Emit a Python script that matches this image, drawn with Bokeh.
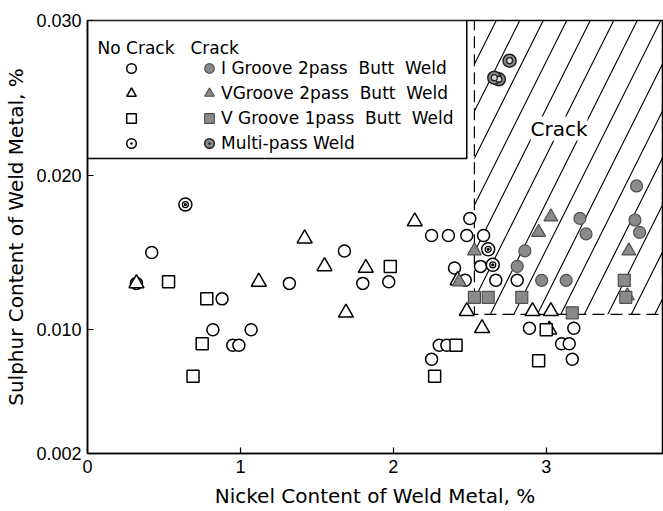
from bokeh.plotting import figure
from bokeh.models import (Range1d, FixedTicker, NumeralTickFormatter, BoxAnnotation,
                          Label, Legend, LegendItem)
from bokeh.embed import file_html
from bokeh.resources import INLINE

# ---- data (Ni %, S %) ----
nc_circle_x = [0.32, 0.42, 0.88, 0.82, 1.07, 0.95, 0.99, 1.32, 1.68, 1.80, 1.97, 2.50, 2.25, 2.36,
               2.48, 2.59, 2.57, 2.40, 2.47, 2.67, 2.81, 2.89, 3.18, 2.30, 2.35, 3.10, 3.15, 2.25, 3.17]
nc_circle_y = [0.0130, 0.0150, 0.0120, 0.0100, 0.0100, 0.0090, 0.0090, 0.0130, 0.0151, 0.0130, 0.0131,
               0.0172, 0.0161, 0.0161, 0.0161, 0.0161, 0.0141, 0.0140, 0.0132, 0.0132, 0.0132, 0.0101,
               0.0101, 0.0090, 0.0090, 0.0091, 0.0091, 0.0081, 0.0081]

nc_tri_x = [0.32, 1.12, 1.42, 1.55, 1.82, 1.69, 2.14, 2.42, 2.48, 2.91, 3.03, 2.58, 3.02]
nc_tri_y = [0.0130, 0.0131, 0.0159, 0.0141, 0.0140, 0.0111, 0.0170, 0.0132, 0.0112, 0.0112, 0.0112,
            0.0101, 0.0100]

nc_sq_x = [0.53, 0.78, 0.75, 0.69, 1.98, 2.41, 3.00, 2.95, 2.27]
nc_sq_y = [0.0131, 0.0120, 0.0091, 0.0070, 0.0141, 0.0090, 0.0100, 0.0080, 0.0070]

nc_multi_x = [0.64, 2.62, 2.65]
nc_multi_y = [0.0181, 0.0152, 0.0142]

cr_circle_x = [2.86, 2.81, 2.97, 3.13, 3.22, 3.26, 3.59, 3.58, 3.61]
cr_circle_y = [0.0151, 0.0141, 0.0132, 0.0132, 0.0172, 0.0162, 0.0193, 0.0171, 0.0163]

cr_tri_x = [2.53, 2.95, 3.03, 3.54, 3.53, 2.43]
cr_tri_y = [0.0151, 0.0163, 0.0173, 0.0151, 0.0122, 0.0131]

cr_sq_x = [2.53, 2.62, 2.84, 3.17, 3.51, 3.52]
cr_sq_y = [0.0121, 0.0121, 0.0121, 0.0111, 0.0132, 0.0121]

cr_multi_x = [2.69, 2.66, 2.76]
cr_multi_y = [0.0262, 0.0263, 0.0274]

x_ticks = [0, 1, 2, 3]
y_ticks = [0.002, 0.010, 0.020, 0.030]

crack_ni_min = 2.53
crack_s_min = 0.011

legend_labels = ["I Groove 2pass\u00a0\u00a0Butt\u00a0\u00a0Weld",
                 "VGroove 2pass\u00a0\u00a0Butt\u00a0\u00a0Weld",
                 "V Groove 1pass\u00a0\u00a0Butt\u00a0\u00a0Weld",
                 "Multi-pass Weld"]

FONT = "DejaVu Sans"
TICK_FONT = "Liberation Sans"
GRAY = "#8a8a8a"
DARK = "#505050"

p = figure(width=663, height=511, output_backend="svg", toolbar_location=None,
           x_range=Range1d(0, 3.76), y_range=Range1d(0.002, 0.030),
           min_border_left=87, min_border_right=1, min_border_top=20, min_border_bottom=58)
p.grid.visible = False
p.outline_line_color = "black"
p.outline_line_width = 1.5

for ax in (p.xaxis[0], p.yaxis[0]):
    ax.major_tick_in = 6
    ax.major_tick_out = 0
    ax.minor_tick_line_color = None
    ax.axis_line_width = 1.5
    ax.major_tick_line_width = 1.2
    ax.major_label_text_font = TICK_FONT
    ax.major_label_text_font_size = "18px"
    ax.major_label_text_color = "black"
    ax.major_label_standoff = 6
    ax.axis_label_text_font = FONT
    ax.axis_label_text_font_size = "20px"
    ax.axis_label_text_font_style = "normal"
    ax.axis_label_text_color = "black"
p.xaxis.axis_label_standoff = 8
p.yaxis.axis_label_standoff = 5

p.xaxis.ticker = FixedTicker(ticks=x_ticks)
p.yaxis.ticker = FixedTicker(ticks=y_ticks)
p.yaxis.formatter = NumeralTickFormatter(format="0.000")
p.xaxis.axis_label = "Nickel Content of Weld Metal, %"
p.yaxis.axis_label = "Sulphur Content of Weld Metal, %"

# crack region (hatched) and legend frame
crack_box = BoxAnnotation(left=crack_ni_min, bottom=crack_s_min, fill_color="white", fill_alpha=0,
                          line_color="black", line_alpha=1, line_width=1.2, line_dash="12 6",
                          hatch_pattern="/", hatch_scale=47, hatch_weight=1.1,
                          hatch_color="black", hatch_alpha=1, level="underlay")
p.add_layout(crack_box)
legend_box = BoxAnnotation(left=0, right=2.48, bottom=0.02107, fill_color="white", fill_alpha=1,
                           line_color="black", line_alpha=1, line_width=1.5, level="underlay")
p.add_layout(legend_box)

open_kw = dict(fill_color="white", line_color="black", line_width=1.5)
fill_kw = dict(fill_color=GRAY, line_color=DARK, line_width=1.2)

r_nc_c = p.scatter(nc_circle_x, nc_circle_y, marker="circle", size=12, **open_kw)
r_nc_t = p.scatter(nc_tri_x, nc_tri_y, marker="triangle", size=15, **open_kw)
r_nc_s = p.scatter(nc_sq_x, nc_sq_y, marker="square", size=12, **open_kw)
r_nc_m = p.scatter(nc_multi_x, nc_multi_y, marker="circle_dot", size=13, **open_kw)
r_nc_mi = p.scatter(nc_multi_x, nc_multi_y, marker="circle", size=6, fill_color=None,
                    line_color="black", line_width=1.3)

r_cr_c = p.scatter(cr_circle_x, cr_circle_y, marker="circle", size=12, **fill_kw)
r_cr_t = p.scatter(cr_tri_x, cr_tri_y, marker="triangle", size=14, **fill_kw)
r_cr_s = p.scatter(cr_sq_x, cr_sq_y, marker="square", size=12, **fill_kw)
r_cr_m = p.scatter(cr_multi_x, cr_multi_y, marker="circle_dot", size=13,
                   fill_color=GRAY, line_color="#222222", line_width=1.5)
r_cr_mi = p.scatter(cr_multi_x, cr_multi_y, marker="circle", size=6, fill_color="#dddddd",
                    line_color="#222222", line_width=1.3)

leg_common = dict(glyph_width=24, glyph_height=24, spacing=1, padding=0,
                  border_line_color=None, background_fill_alpha=0,
                  label_standoff=0, label_text_font=FONT, label_text_font_size="17px",
                  label_text_color="black")
leg1 = Legend(items=[LegendItem(label=" ", renderers=[r]) for r in (r_nc_c, r_nc_t, r_nc_s, r_nc_m)],
              location=(32, 298), **leg_common)
leg2 = Legend(items=[LegendItem(label=t, renderers=[r]) for t, r in
                     zip(legend_labels, (r_cr_c, r_cr_t, r_cr_s, r_cr_m))],
              location=(110, 298), **leg_common)
p.add_layout(leg1)
p.add_layout(leg2)

p.add_layout(Label(x=10, y=406, x_units="screen", y_units="screen", text="No Crack",
                   text_font=FONT, text_font_size="17px", text_baseline="middle",
                   text_color="black"))
p.add_layout(Label(x=103, y=406, x_units="screen", y_units="screen", text="Crack",
                   text_font=FONT, text_font_size="17px", text_baseline="middle",
                   text_color="black"))
p.add_layout(Label(x=443, y=325, x_units="screen", y_units="screen", text="Crack",
                   text_font=FONT, text_font_size="20px", text_baseline="middle",
                   text_color="black", background_fill_color="white"))

open("out.html", "w").write(file_html(p, INLINE))
